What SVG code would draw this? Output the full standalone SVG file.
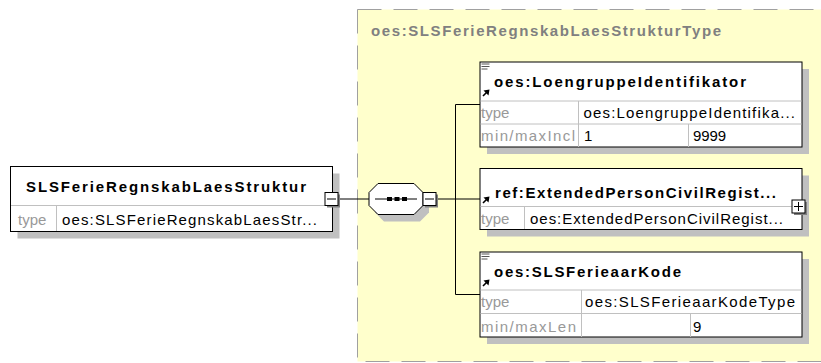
<svg xmlns="http://www.w3.org/2000/svg" width="821" height="363" viewBox="0 0 821 363">
<style>
.bg{fill:#fff}
.region{fill:#ffffcc;stroke:#a0a0a0;stroke-width:1;stroke-dasharray:24 12}
.box{fill:#fff;stroke:#000;stroke-width:1}
.shadow{fill:#c0c0c0}
.bshadow{fill:#808080}
.div{stroke:#c0c0c0;stroke-width:1}
.conn{stroke:#000;stroke-width:1;fill:none}
.t{font-family:"Liberation Sans",Arial,sans-serif;font-size:15px;fill:#000}
.b{font-weight:bold}
.lbl{fill:#999}
.rtitle{fill:#808080}
.ico{stroke:#555;stroke-width:1}
.arr{stroke:#000;stroke-width:1.6;fill:none}
.arrh{fill:#000}
</style>
<rect class="bg" x="0" y="0" width="821" height="363"/>

<g id="region-type">
  <rect class="region" x="357.5" y="9.5" width="470" height="352"/>
  <text class="t b rtitle" x="371" y="36" textLength="350" lengthAdjust="spacing">oes:SLSFerieRegnskabLaesStrukturType</text>
</g>

<g id="connectors">
  <line class="conn" x1="339" y1="199" x2="369" y2="199"/>
  <line class="conn" x1="438" y1="199" x2="455.5" y2="199"/>
  <line class="conn" x1="455.5" y1="104.5" x2="455.5" y2="294.5"/>
  <line class="conn" x1="455.5" y1="104.5" x2="480" y2="104.5"/>
  <line class="conn" x1="455.5" y1="199" x2="480" y2="199"/>
  <line class="conn" x1="455.5" y1="294.5" x2="480" y2="294.5"/>
</g>

<g id="node-main">
  <rect class="shadow" x="17.5" y="173.5" width="322" height="65"/>
  <rect class="box" x="10.5" y="166.5" width="322" height="65"/>
  <line class="div" x1="11" y1="205.5" x2="332" y2="205.5"/>
  <line class="div" x1="56.5" y1="205.5" x2="56.5" y2="231"/>
  <text class="t b" x="26" y="192" textLength="280" lengthAdjust="spacing">SLSFerieRegnskabLaesStruktur</text>
  <text class="t lbl" x="18" y="225">type</text>
  <text class="t" x="62" y="225" textLength="255" lengthAdjust="spacing">oes:SLSFerieRegnskabLaesStr...</text>
  <rect class="bshadow" x="327" y="194.5" width="13" height="13"/>
  <rect class="box" x="325" y="192.5" width="13" height="13"/>
  <line class="conn" x1="327" y1="199" x2="336" y2="199"/>
</g>

<g id="node-sequence">
  <polygon class="shadow" points="384,190.5 420,190.5 429,199.5 429,212.5 420,221.5 384,221.5 375,212.5 375,199.5"/>
  <polygon class="box" points="378,183.5 414,183.5 423,192.5 423,205.5 414,214.5 378,214.5 369,205.5 369,192.5"/>
  <line class="conn" x1="375" y1="199" x2="417" y2="199"/>
  <rect class="arrh" x="387" y="197" width="5" height="4"/>
  <rect class="arrh" x="394.5" y="197" width="5" height="4"/>
  <rect class="arrh" x="402" y="197" width="5" height="4"/>
  <rect class="bshadow" x="425" y="194.5" width="13" height="13"/>
  <rect class="box" x="423" y="192.5" width="13" height="13"/>
  <line class="conn" x1="425" y1="199" x2="434" y2="199"/>
</g>

<g id="node-loengruppe">
  <rect class="shadow" x="487" y="69" width="322" height="85"/>
  <rect class="box" x="480" y="62" width="322" height="85"/>
  <line class="div" x1="480.5" y1="101" x2="801.5" y2="101"/>
  <line class="div" x1="480.5" y1="124" x2="801.5" y2="124"/>
  <line class="div" x1="578.5" y1="101" x2="578.5" y2="147"/>
  <line class="div" x1="688.5" y1="124" x2="688.5" y2="147"/>
  <line class="ico" x1="481.5" y1="64" x2="489.5" y2="64"/>
  <line class="ico" x1="481.5" y1="66.5" x2="489.5" y2="66.5"/>
  <line class="ico" x1="481.5" y1="69" x2="487.5" y2="69"/>
  <line class="arr" x1="483" y1="96" x2="487.5" y2="91.5"/>
  <polygon class="arrh" points="489.5,89.5 483.5,90.5 488.5,95.5"/>
  <text class="t b" x="494" y="87" textLength="252" lengthAdjust="spacing">oes:LoengruppeIdentifikator</text>
  <text class="t lbl" x="481" y="117.5">type</text>
  <text class="t" x="583.5" y="117.5" textLength="211.5" lengthAdjust="spacing">oes:LoengruppeIdentifika...</text>
  <text class="t lbl" x="481" y="141" textLength="94" lengthAdjust="spacing">min/maxIncl</text>
  <text class="t" x="584" y="141">1</text>
  <text class="t" x="693" y="141" textLength="33" lengthAdjust="spacing">9999</text>
</g>

<g id="node-extendedperson">
  <rect class="shadow" x="487" y="175.5" width="322" height="61"/>
  <rect class="box" x="480" y="168.5" width="322" height="61"/>
  <line class="div" x1="480.5" y1="206.5" x2="801.5" y2="206.5"/>
  <line class="div" x1="524.5" y1="206.5" x2="524.5" y2="229"/>
  <line class="arr" x1="483" y1="203" x2="487.5" y2="198.5"/>
  <polygon class="arrh" points="489.5,196.5 483.5,197.5 488.5,202.5"/>
  <text class="t b" x="495" y="198" textLength="281" lengthAdjust="spacing">ref:ExtendedPersonCivilRegist...</text>
  <text class="t lbl" x="481" y="224">type</text>
  <text class="t" x="530" y="224" textLength="253" lengthAdjust="spacing">oes:ExtendedPersonCivilRegist...</text>
  <rect class="bshadow" x="794" y="202" width="13" height="13"/>
  <rect class="box" x="792" y="200" width="13" height="13"/>
  <line class="conn" x1="794" y1="206.5" x2="803" y2="206.5"/>
  <line class="conn" x1="798.5" y1="202" x2="798.5" y2="211"/>
</g>

<g id="node-ferieaarkode">
  <rect class="shadow" x="487" y="259" width="322" height="85"/>
  <rect class="box" x="480" y="252" width="322" height="85"/>
  <line class="div" x1="480.5" y1="290" x2="801.5" y2="290"/>
  <line class="div" x1="480.5" y1="313.5" x2="801.5" y2="313.5"/>
  <line class="div" x1="581.5" y1="290" x2="581.5" y2="337"/>
  <line class="div" x1="690.5" y1="313.5" x2="690.5" y2="337"/>
  <line class="ico" x1="481.5" y1="254" x2="489.5" y2="254"/>
  <line class="ico" x1="481.5" y1="256.5" x2="489.5" y2="256.5"/>
  <line class="ico" x1="481.5" y1="259" x2="487.5" y2="259"/>
  <line class="arr" x1="483" y1="286" x2="487.5" y2="281.5"/>
  <polygon class="arrh" points="489.5,279.5 483.5,280.5 488.5,285.5"/>
  <text class="t b" x="494" y="277" textLength="187" lengthAdjust="spacing">oes:SLSFerieaarKode</text>
  <text class="t lbl" x="481" y="307">type</text>
  <text class="t" x="585" y="307" textLength="210" lengthAdjust="spacing">oes:SLSFerieaarKodeType</text>
  <text class="t lbl" x="481" y="331.5" textLength="95" lengthAdjust="spacing">min/maxLen</text>
  <text class="t" x="693" y="331.5">9</text>
</g>
</svg>
